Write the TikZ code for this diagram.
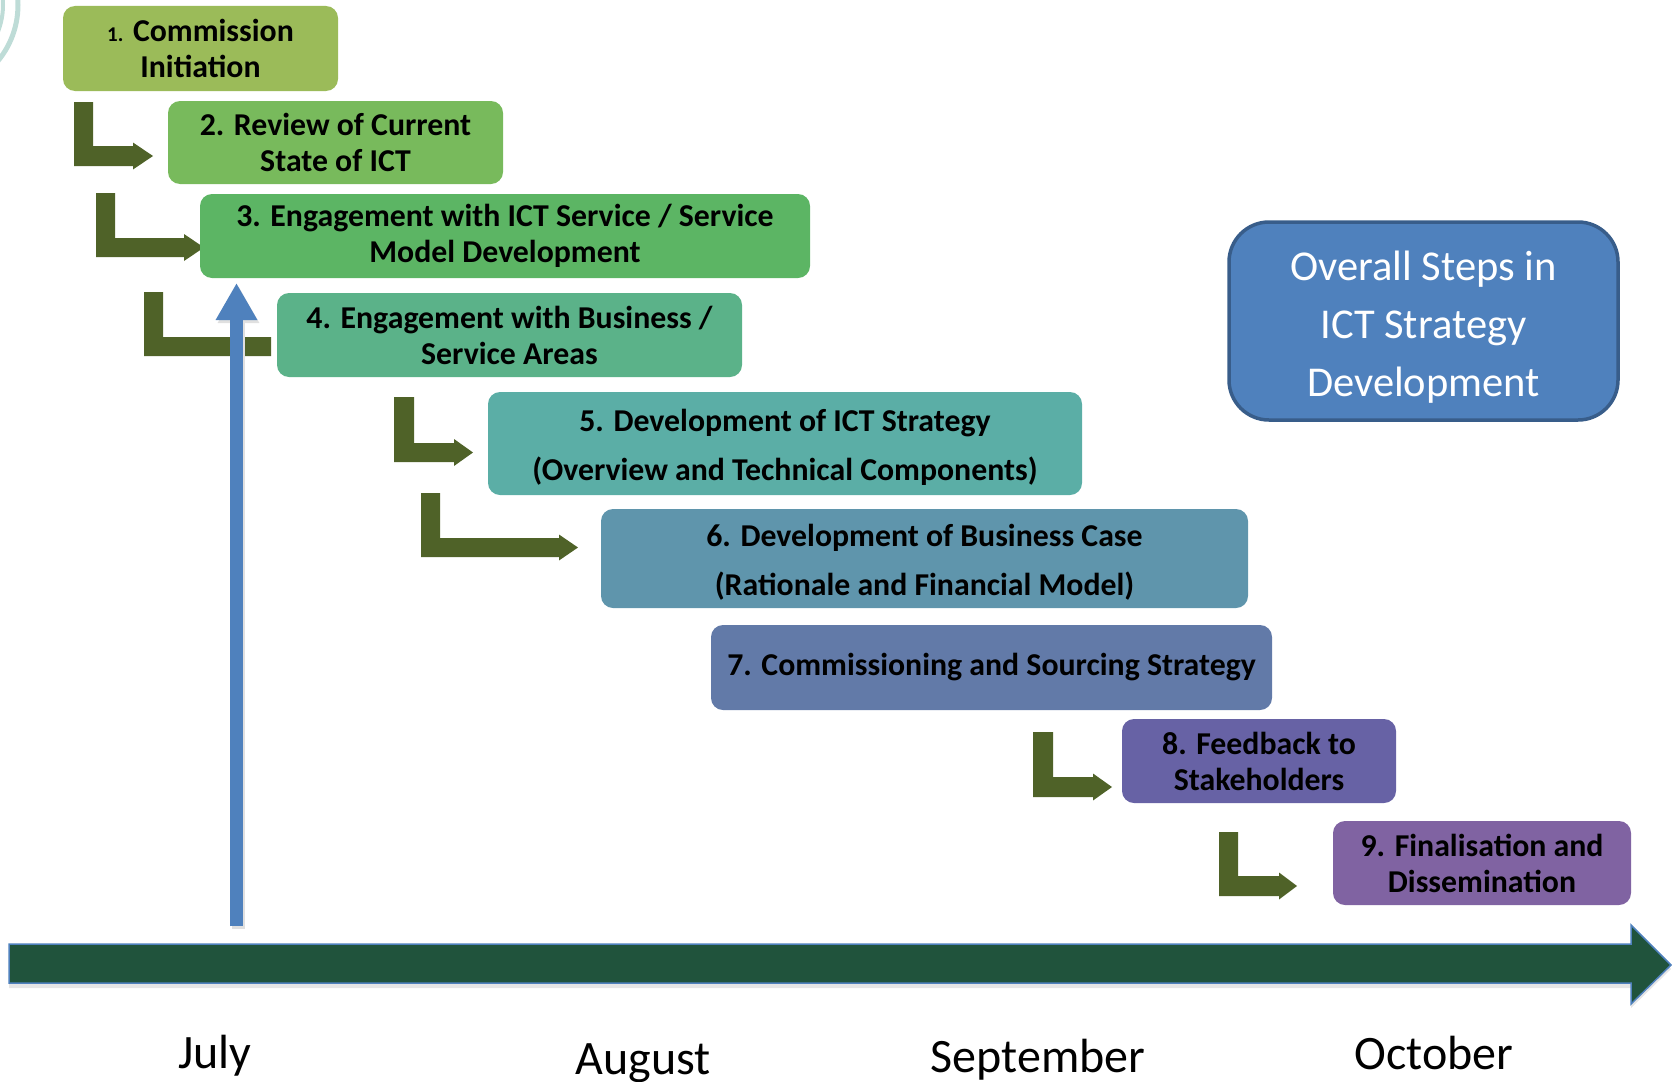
\documentclass[tikz,border=0pt]{standalone}
\usepackage{fontspec}
\setmainfont{Carlito}
\usetikzlibrary{arrows.meta}

\definecolor{c1}{RGB}{155,187,89}
\definecolor{c2}{RGB}{120,186,92}
\definecolor{c3}{RGB}{92,181,100}
\definecolor{c4}{RGB}{91,178,137}
\definecolor{c5}{RGB}{91,174,166}
\definecolor{c6}{RGB}{95,149,172}
\definecolor{c7}{RGB}{98,122,168}
\definecolor{c8}{RGB}{103,98,165}
\definecolor{c9}{RGB}{128,99,162}
\definecolor{bendcol}{RGB}{79,98,40}
\definecolor{axisfill}{RGB}{32,83,60}
\definecolor{axisline}{RGB}{79,129,189}
\definecolor{bluefill}{RGB}{79,129,189}
\definecolor{blueedge}{RGB}{56,93,138}
\definecolor{logo}{RGB}{190,220,215}

% L-shaped block arrow: left x, top y, bar width, bar top y, bar bottom y,
% head start x, tip x, head overhang
\newcommand\bentarr[8]{%
  \fill[bendcol] (#1,#2) -- ({#1+#3},#2) -- ({#1+#3},#4) -- (#6,#4)
    -- (#6,{#4-#8}) -- (#7,{(#4+#5)/2}) -- (#6,{#5+#8}) -- (#6,#5)
    -- (#1,#5) -- cycle;}
% tall strut that lowers a two-line text block a little
\newcommand\topstrut{\rule{0pt}{30pt}}

\tikzset{
  stepbox/.style={rounded corners=12pt, inner sep=0pt, align=center,
    text=black, font=\bfseries\fontsize{31.8}{36}\selectfont},
  widebox/.style={stepbox, font=\bfseries\fontsize{31.8}{49}\selectfont},
  titlebox/.style={rounded corners=40pt, inner sep=0pt,
    fill=bluefill, draw=blueedge, line width=3.5pt},
  titletext/.style={align=center, inner sep=0pt, text=white,
    font=\fontsize{42.5}{58}\selectfont},
  month/.style={anchor=base, font=\fontsize{48}{56}\selectfont},
}

\begin{document}
\begin{tikzpicture}[x=1pt, y=-1pt]
\useasboundingbox (0,0) rectangle (1672,1081);

% faint emblem edge in the corner
\begin{scope}
  \clip (0,0) rectangle (80,120);
  \draw[logo, line width=5pt] (-70,5) circle (88);
  \draw[logo, line width=4pt] (-70,5) circle (73);
\end{scope}

% time axis
\fill[black!10] (9,948) -- (1631,948) -- (1631,929) -- (1671,969)
  -- (1631,1008) -- (1631,988) -- (9,988) -- cycle;
\filldraw[fill=axisfill, draw=axisline, line width=1.5pt]
  (9,944) -- (1631,944) -- (1631,925) -- (1671,965)
  -- (1631,1004) -- (1631,983) -- (9,983) -- cycle;

% bent arrows between steps
\bentarr{74}{102}{19}{146}{166}{133}{153}{3.5}
\bentarr{96}{193}{19}{238}{257}{184}{204}{4}
\fill[bendcol] (144,292) -- (163,292) -- (163,337) -- (271,337)
  -- (271,356) -- (144,356) -- cycle;
\bentarr{394}{397}{20}{443}{462}{454}{473}{4}
\bentarr{421}{493}{19}{538}{557}{559}{578}{3.5}
\bentarr{1033}{732}{20}{777}{797}{1093}{1112}{3.5}
\bentarr{1219}{832}{19}{876}{896}{1279}{1297}{3.5}

% start marker
\coordinate (vs) at (236.5,926);
\coordinate (ve) at (236.5,283);
\draw[black!12, line width=13pt, -{Triangle[width=39pt,length=37pt]}]
  ([shift={(2,3)}]vs) -- ([shift={(2,3)}]ve);
\draw[bluefill, line width=13pt, -{Triangle[width=39pt,length=37pt]}]
  (vs) -- (ve);

% steps
\node[stepbox, fill=c1, minimum width=275pt, minimum height=85pt]
  (b1) at (200.5,48.5) {{\fontsize{21}{25}\selectfont 1.} Commission\\Initiation};
\node[stepbox, fill=c2, minimum width=335pt, minimum height=83pt]
  (b2) at (335.5,142.5) {2. Review of Current\\State of ICT};
\node[stepbox, fill=c3, minimum width=610pt, minimum height=84pt]
  (b3) at (505,236) {3. Engagement with ICT Service / Service\\Model Development};
\node[stepbox, fill=c4, minimum width=465pt, minimum height=84pt]
  (b4) at (509.5,335) {4. Engagement with Business /\\Service Areas};
\node[widebox, fill=c5, minimum width=594pt, minimum height=103pt]
  (b5) at (785,443.5) {\topstrut5. Development of ICT Strategy\\(Overview and Technical Components)};
\node[widebox, fill=c6, minimum width=647pt, minimum height=99pt]
  (b6) at (924.5,558.5) {\topstrut6. Development of Business Case\\(Rationale and Financial Model)};
\node[stepbox, fill=c7, minimum width=561pt, minimum height=85pt]
  (b7) at (991.5,667.5) {7. Commissioning and Sourcing Strategy};
\node[stepbox, fill=c8, minimum width=274pt, minimum height=84pt]
  (b8) at (1259,761) {8. Feedback to\\Stakeholders};
\node[stepbox, fill=c9, minimum width=298pt, minimum height=84pt]
  (b9) at (1482,863) {9. Finalisation and\\Dissemination};

% title
\node[titlebox, minimum width=389pt, minimum height=198pt]
  (title) at (1423.5,321) {};
\node[titletext] (titletxt) at ([yshift=-6.5pt]title.center)
  {Overall Steps in\\ICT Strategy\\Development};

% months
\node[month] (jul) at (215,1068) {July};
\node[month] (aug) at (643,1074) {August};
\node[month] (sep) at (1038,1072) {September};
\node[month] (oct) at (1434,1069) {October};
\end{tikzpicture}
\end{document}
